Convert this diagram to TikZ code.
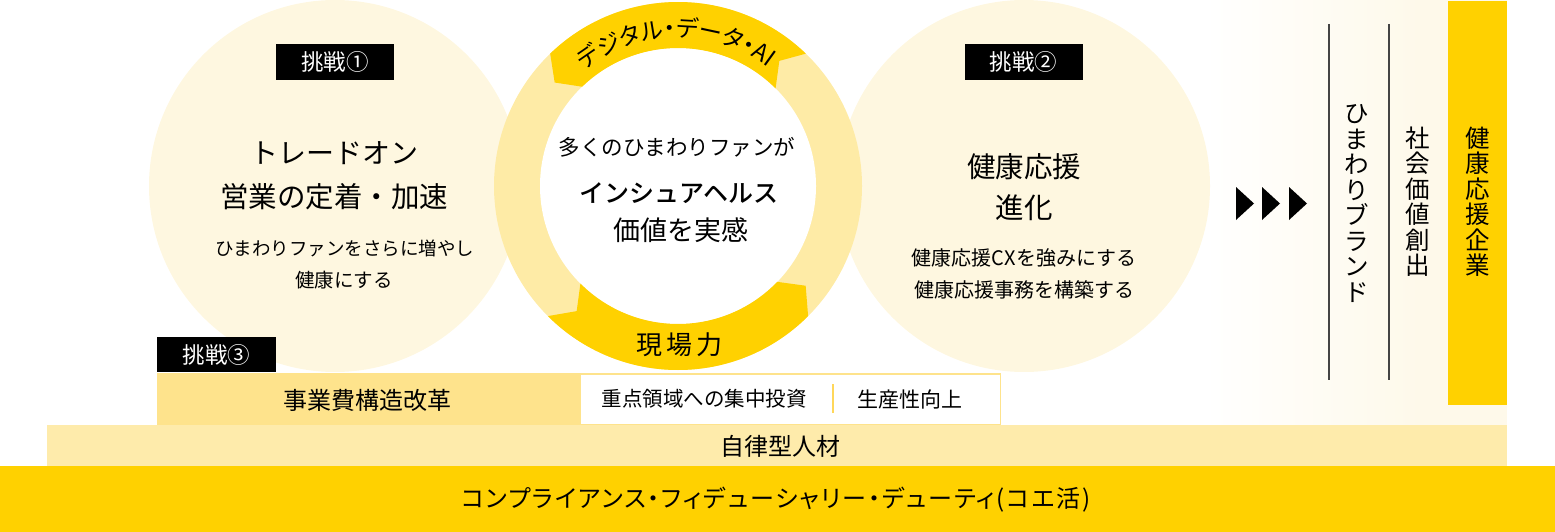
\documentclass[tikz,border=0pt]{standalone}
\usepackage{fontspec}
\setmainfont{Noto Sans CJK JP}
\newfontfamily\paltfont[RawFeature=+palt]{Noto Sans CJK JP}
\newfontfamily\paltspaced[RawFeature=+palt,LetterSpace=8]{Noto Sans CJK JP}
\newfontfamily\medfont{Noto Sans CJK JP Medium}
\usetikzlibrary{calc,decorations.text}
\definecolor{pale}{HTML}{FEF7E0}
\definecolor{ringlight}{HTML}{FEEBA6}
\definecolor{gold}{HTML}{FFD100}
\definecolor{barmid}{HTML}{FEE38C}
\definecolor{barlight}{HTML}{FEEBAB}
\definecolor{cream}{HTML}{FEF9EA}
\definecolor{linegray}{HTML}{444444}
\definecolor{sepgold}{HTML}{FFD75A}
\newcommand\setfs[1]{\fontsize{#1}{#1}\selectfont}
\begin{document}
\begin{tikzpicture}[x=1pt,y=-1pt,
  lbl/.style={fill=black,text=white,minimum width=118pt,minimum height=36pt,inner sep=0pt,font=\setfs{22.5}},
  txt/.style={inner sep=0pt,align=center,text=black},
  vtxt/.style={inner sep=0pt,align=center,text=black,font=\fontsize{24.5}{25.5}\selectfont},
  tri/.style={fill=black},
  vline/.style={draw=linegray,line width=1.2pt}]
\useasboundingbox (0,0) rectangle (1555,532);
% right panel
\fill[left color=white,right color=cream] (1205,0) rectangle (1420,425);
\fill[cream] (1420,0) rectangle (1507,425);
% pale circles
\fill[pale] (335,186) circle[radius=186];
\fill[pale] (1024,186) circle[radius=186];
% ring
\coordinate (c) at (678,186);
\fill[ringlight] (c) circle[radius=184];
\fill[white] (c) circle[radius=138];
\fill[gold] ($(c)+(-46:184)$) arc[start angle=-46,end angle=-134,radius=184]
  -- ($(c)+(-140:161)$) -- ($(c)+(-134:138)$) arc[start angle=-134,end angle=-45,radius=138]
  -- ($(c)+(-51:161)$) -- cycle;
\fill[gold] ($(c)+(135:184)$) arc[start angle=135,end angle=45,radius=184]
  -- ($(c)+(38:162)$) -- ($(c)+(44:138)$) arc[start angle=44,end angle=135,radius=138]
  -- ($(c)+(129:161)$) -- cycle;
\path[decorate,decoration={text along path,text={|\paltfont\setfs{23.5}|デジタル・データ・AI},text align=center}]
  ($(c)+(-151:149)$) arc[start angle=-151,end angle=-31,radius=149];
\node[txt,font=\setfs{26}] (genba) at (679.5,344.5) {現\hspace{4pt}場\hspace{4pt}力};
% centre text
\node[txt,font=\setfs{21.5}] (c1) at (677,147) {多くのひまわりファンが};
\node[txt,font=\medfont\setfs{25}] (c2) at (679,193) {インシュアヘルス};
\node[txt,font=\setfs{27}] (c3) at (681,230) {価値を実感};
% left circle
\node[lbl] (ch1) at (335,62) {挑戦①};
\node[txt,font=\setfs{28}] (l1) at (334,153) {トレードオン};
\node[txt,font=\setfs{28.5}] (l2) at (334,197) {営業の定着・加速};
\node[txt,font=\setfs{18.5}] (l3) at (344.5,248) {ひまわりファンをさらに増やし};
\node[txt,font=\setfs{19.5}] (l4) at (344,280) {健康にする};
% right circle
\node[lbl] (ch2) at (1023.5,62) {挑戦②};
\node[txt,font=\setfs{28.5}] (r1) at (1024,167) {健康応援};
\node[txt,font=\setfs{28.5}] (r2) at (1024,208) {進化};
\node[txt,font=\setfs{20}] (r3) at (1024,258) {健康応援CXを強みにする};
\node[txt,font=\setfs{20}] (r4) at (1024,290) {健康応援事務を構築する};
% challenge 3 bars
\node[lbl,minimum width=119pt,minimum height=35pt] (ch3) at (216.5,354.5) {挑戦③};
\fill[barmid] (157,373) rectangle (579,425);
\node[txt,font=\setfs{24}] (b1) at (367,400) {事業費構造改革};
\draw[fill=white,draw=barmid,line width=1.5pt] (579.75,373.75) rectangle (1000.25,424.25);
\node[txt,font=\setfs{20.5}] (b2) at (704,399) {重点領域への集中投資};
\draw[sepgold,line width=1.2pt] (833,384) -- (833,413);
\node[txt,font=\setfs{21}] (b3) at (910,399) {生産性向上};
\fill[barlight] (47,425) rectangle (1507,466);
\node[txt,font=\setfs{24}] (b4) at (780,446) {自律型人材};
\fill[gold] (0,466) rectangle (1555,532);
\node[txt,font=\paltspaced\setfs{24}] (b5) at (776,500) {コンプライアンス・フィデューシャリー・デューティ(コエ活)};
% arrows
\fill[tri] (1236,187) -- (1254,203.5) -- (1236,220) -- cycle;
\fill[tri] (1262,187) -- (1280,203.5) -- (1262,220) -- cycle;
\fill[tri] (1289,187) -- (1307,203.5) -- (1289,220) -- cycle;
% right column
\draw[vline] (1329,24) -- (1329,380);
\draw[vline] (1389,24) -- (1389,380);
\fill[gold] (1448,1) rectangle (1507,405);
\node[vtxt] (v1) at (1357,203.5) {ひ\\ま\\わ\\り\\ブ\\ラ\\ン\\ド};
\node[vtxt] (v2) at (1418,201.5) {社\\会\\価\\値\\創\\出};
\node[vtxt] (v3) at (1477.5,201.5) {健\\康\\応\\援\\企\\業};
\end{tikzpicture}
\end{document}
